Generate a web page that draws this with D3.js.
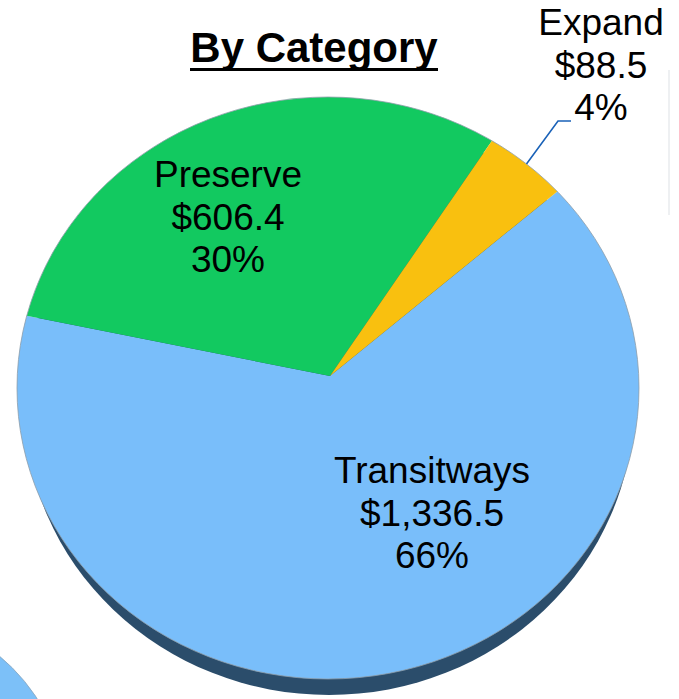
<!DOCTYPE html>
<html>
<head>
<meta charset="utf-8">
<script src="https://cdn.jsdelivr.net/npm/d3@7"></script>
<style>
  html, body { margin: 0; padding: 0; background: #fff; }
  svg { display: block; }
  text { font-family: "Liberation Sans", Arial, sans-serif; }
</style>
</head>
<body>
<svg id="chart" width="679" height="699"></svg>
<script>
// ---- data ----
const categories = ["Transitways", "Preserve", "Expand"];
const values = [1336.5, 606.4, 88.5];
const valueLabels = ["$1,336.5", "$606.4", "$88.5"];
const percentLabels = ["66%", "30%", "4%"];
const colors = ["#79befa", "#12c960", "#f9c00f"];
const title = "By Category";

// ---- layout ----
const svg = d3.select("#chart");
const cx = 328, cy = 388, rx = 311, ry = 291, depth = 16;
const apex = [330, 376];
const deg = Math.PI / 180;
const start = 47.5 * deg;

const pie = d3.pie().sort(null).value(d => d).startAngle(start).endAngle(start + 2 * Math.PI);
const arcs = pie(values);

function pt(a) { return [cx + rx * Math.sin(a), cy - ry * Math.cos(a)]; }

// faint gray line at right edge
svg.append("line").attr("x1", 669).attr("x2", 669).attr("y1", 70).attr("y2", 215)
  .attr("stroke", "#eef0f2").attr("stroke-width", 2);

// partial pie at bottom-left
svg.append("circle").attr("cx", -120).attr("cy", 800).attr("r", 187)
  .attr("fill", "#7cc0f8").attr("stroke", "#8aa4bb").attr("stroke-width", 0.8);

// depth (side)
svg.append("ellipse").attr("cx", cx + 1).attr("cy", cy + depth).attr("rx", rx - 6).attr("ry", ry)
  .attr("fill", "#2b4d6b");

// slices
svg.selectAll("path.slice").data(arcs).enter().append("path")
  .attr("class", "slice")
  .attr("fill", (d, i) => colors[i])
  .attr("d", d => {
    const p0 = pt(d.startAngle), p1 = pt(d.endAngle);
    const large = (d.endAngle - d.startAngle) > Math.PI ? 1 : 0;
    return `M${apex[0]},${apex[1]}L${p0[0]},${p0[1]}A${rx},${ry} 0 ${large} 1 ${p1[0]},${p1[1]}Z`;
  });

// outline of top face
svg.append("ellipse").attr("cx", cx).attr("cy", cy).attr("rx", rx).attr("ry", ry)
  .attr("fill", "none").attr("stroke", "#8f9eaa").attr("stroke-width", 0.8);

// title
svg.append("text").attr("x", 314).attr("y", 62).attr("text-anchor", "middle")
  .attr("font-size", 42).attr("font-weight", "bold").attr("fill", "#000")
  .text(title);
svg.append("line").attr("x1", 190).attr("x2", 438).attr("y1", 69.5).attr("y2", 69.5)
  .attr("stroke", "#000").attr("stroke-width", 3);

// labels
const labelPos = [[432, 483], [228, 187], [601, 35]];
const lineH = 42.5;
arcs.forEach((d, i) => {
  const t = svg.append("text").attr("text-anchor", "middle").attr("font-size", 37).attr("fill", "#000");
  [categories[i], valueLabels[i], percentLabels[i]].forEach((s, j) => {
    t.append("tspan").attr("x", labelPos[i][0]).attr("y", labelPos[i][1] + j * lineH).text(s);
  });
});

// leader line for Expand
const mid = (arcs[2].startAngle + arcs[2].endAngle) / 2;
const pm = pt(mid);
svg.append("path")
  .attr("d", `M${pm[0]},${pm[1]}L558,121L571,121`)
  .attr("fill", "none").attr("stroke", "#1a62b8").attr("stroke-width", 1.6);
</script>
</body>
</html>
